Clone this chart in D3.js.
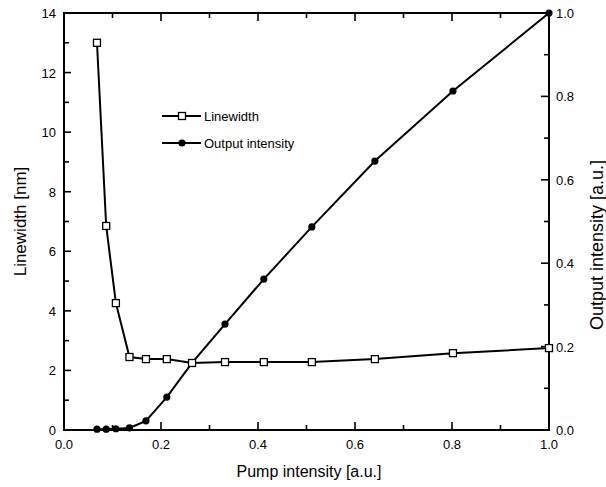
<!DOCTYPE html>
<html>
<head>
<meta charset="utf-8">
<script src="https://cdn.jsdelivr.net/npm/d3@7"></script>
<style>
  body { margin: 0; background: #fff; }
  text { font-family: "Liberation Sans", Arial, sans-serif; fill: #000; }
</style>
</head>
<body>
<div id="chart"></div>
<script>
// pump intensity [a.u.] for each measurement
var pump = [0.068, 0.087, 0.107, 0.135, 0.169, 0.212, 0.264, 0.332, 0.412, 0.511, 0.641, 0.802, 1.0];
// linewidth [nm] (left axis)
var linewidth = [13.0, 6.85, 4.26, 2.45, 2.38, 2.38, 2.25, 2.28, 2.28, 2.28, 2.38, 2.58, 2.75];
// output intensity [a.u.] (right axis)
var outputIntensity = [0.002, 0.002, 0.003, 0.005, 0.022, 0.079, 0.161, 0.254, 0.362, 0.487, 0.645, 0.813, 1.0];

var xTicks = [0.0, 0.2, 0.4, 0.6, 0.8, 1.0];
var yLeftTicks = [0, 2, 4, 6, 8, 10, 12, 14];
var yRightTicks = [0.0, 0.2, 0.4, 0.6, 0.8, 1.0];

var width = 606, height = 487;
var margin = {left: 64, right: 57, top: 13, bottom: 57};

var svg = d3.select("#chart").append("svg")
  .attr("width", width).attr("height", height);

var x = d3.scaleLinear().domain([0, 1]).range([margin.left, width - margin.right]);
var yL = d3.scaleLinear().domain([0, 14]).range([height - margin.bottom, margin.top]);
var yR = d3.scaleLinear().domain([0, 1]).range([height - margin.bottom, margin.top]);

var x0 = margin.left, x1 = width - margin.right;
var y0 = height - margin.bottom, y1 = margin.top;

// ticks, all pointing inward
function tickLines(g, vals, f) {
  g.selectAll(null).data(vals).enter().append("line")
    .each(function(d) { d3.select(this).call(f, d); })
    .attr("stroke", "#000").attr("stroke-width", 1.6);
}
var xMinor = d3.range(0, 11).map(function(i) { return i / 10; });
var yLMinor = d3.range(0, 15);
var yRMinor = d3.range(0, 11).map(function(i) { return i / 10; });

var ticks = svg.append("g");
tickLines(ticks, xMinor, function(s, d) {
  var l = (Math.round(d * 10) % 2 === 0) ? 8 : 5;
  s.attr("x1", x(d)).attr("x2", x(d)).attr("y1", y0).attr("y2", y0 - l);
});
tickLines(ticks, xMinor, function(s, d) {
  var l = (Math.round(d * 10) % 2 === 0) ? 8 : 5;
  s.attr("x1", x(d)).attr("x2", x(d)).attr("y1", y1).attr("y2", y1 + l);
});
tickLines(ticks, yLMinor, function(s, d) {
  var l = (d % 2 === 0) ? 7 : 5;
  s.attr("x1", x0).attr("x2", x0 + l).attr("y1", yL(d)).attr("y2", yL(d));
});
tickLines(ticks, yRMinor, function(s, d) {
  var l = (Math.round(d * 10) % 2 === 0) ? 8 : 5;
  s.attr("x1", x1).attr("x2", x1 - l).attr("y1", yR(d)).attr("y2", yR(d));
});

// frame
svg.append("rect").attr("x", x0).attr("y", y1)
  .attr("width", x1 - x0).attr("height", y0 - y1)
  .attr("fill", "none").attr("stroke", "#000").attr("stroke-width", 2);

// tick labels
svg.append("g").selectAll("text").data(xTicks).enter().append("text")
  .attr("x", function(d) { return x(d); }).attr("y", y0 + 19)
  .attr("text-anchor", "middle").attr("font-size", "13px")
  .text(function(d) { return d3.format(".1f")(d); });
svg.append("g").selectAll("text").data(yLeftTicks).enter().append("text")
  .attr("x", x0 - 8).attr("y", function(d) { return yL(d) + 5; })
  .attr("text-anchor", "end").attr("font-size", "13px")
  .text(function(d) { return d; });
svg.append("g").selectAll("text").data(yRightTicks).enter().append("text")
  .attr("x", x1 + 7).attr("y", function(d) { return yR(d) + 5; })
  .attr("text-anchor", "start").attr("font-size", "13px")
  .text(function(d) { return d3.format(".1f")(d); });

// axis titles
svg.append("text").attr("x", 309).attr("y", 477)
  .attr("text-anchor", "middle").attr("font-size", "16px")
  .text("Pump intensity [a.u.]");
svg.append("text").attr("transform", "translate(26," + ((y0 + y1) / 2) + ") rotate(-90)")
  .attr("text-anchor", "middle").attr("font-size", "17px")
  .text("Linewidth [nm]");
svg.append("text").attr("transform", "translate(603,245) rotate(-90)")
  .attr("text-anchor", "middle").attr("font-size", "18px")
  .text("Output intensity [a.u.]");

// series
var lw = pump.map(function(p, i) { return [p, linewidth[i]]; });
var oi = pump.map(function(p, i) { return [p, outputIntensity[i]]; });

svg.append("path").datum(oi)
  .attr("d", d3.line().x(function(d) { return x(d[0]); }).y(function(d) { return yR(d[1]); }))
  .attr("fill", "none").attr("stroke", "#000").attr("stroke-width", 2);
svg.append("path").datum(lw)
  .attr("d", d3.line().x(function(d) { return x(d[0]); }).y(function(d) { return yL(d[1]); }))
  .attr("fill", "none").attr("stroke", "#000").attr("stroke-width", 2);

svg.append("g").selectAll("circle").data(oi).enter().append("circle")
  .attr("cx", function(d) { return x(d[0]); }).attr("cy", function(d) { return yR(d[1]); })
  .attr("r", 3.6).attr("fill", "#000");
svg.append("g").selectAll("rect").data(lw).enter().append("rect")
  .attr("x", function(d) { return x(d[0]) - 3.5; }).attr("y", function(d) { return yL(d[1]) - 3.5; })
  .attr("width", 7).attr("height", 7)
  .attr("fill", "#fff").attr("stroke", "#000").attr("stroke-width", 1.3);

// legend
var legend = svg.append("g");
var legItems = [
  {name: "Linewidth", y: 116, marker: "square"},
  {name: "Output intensity", y: 143, marker: "dot"}
];
legItems.forEach(function(it) {
  legend.append("line").attr("x1", 162).attr("x2", 201).attr("y1", it.y).attr("y2", it.y)
    .attr("stroke", "#000").attr("stroke-width", 2);
  if (it.marker === "square") {
    legend.append("rect").attr("x", 182 - 3.5).attr("y", it.y - 3.5).attr("width", 7).attr("height", 7)
      .attr("fill", "#fff").attr("stroke", "#000").attr("stroke-width", 1.3);
  } else {
    legend.append("circle").attr("cx", 182).attr("cy", it.y).attr("r", 3.6).attr("fill", "#000");
  }
  legend.append("text").attr("x", 204).attr("y", it.y + 5)
    .attr("font-size", "13px").text(it.name);
});
</script>
</body>
</html>
